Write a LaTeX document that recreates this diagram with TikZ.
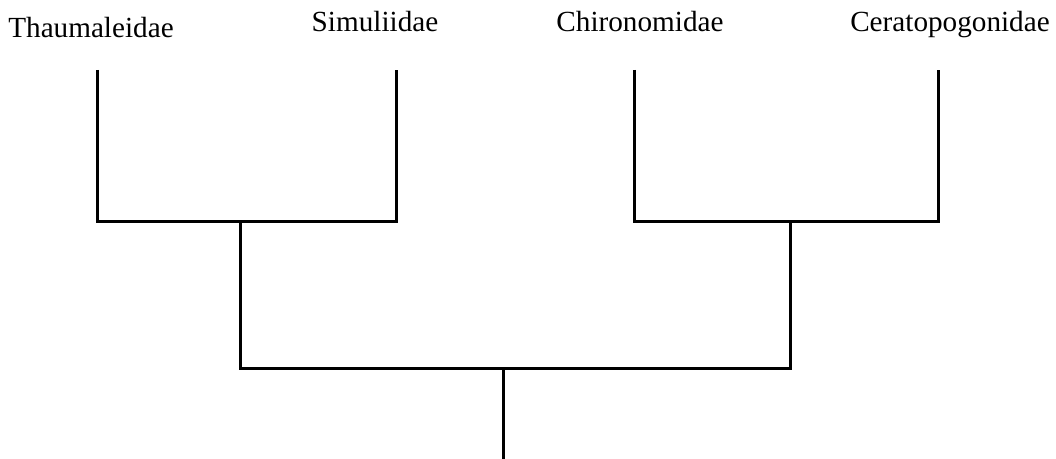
\documentclass[tikz,border=0pt]{standalone}
\usepackage{fontspec}
\setmainfont{Liberation Serif}
\begin{document}
\begin{tikzpicture}[x=0.5pt, y=-0.5pt,
  taxon/.style={anchor=base, inner sep=0pt, font=\fontsize{14.6}{18}\selectfont},
  branch/.style={line width=1.5pt}]
  \useasboundingbox (0,0) rectangle (1056,459);

  % family names
  \node[taxon] (thau) at (91,38) {Thaumaleidae};
  \node[taxon] (simu) at (375,32) {Simuliidae};
  \node[taxon] (chir) at (640,32) {Chironomidae};
  \node[taxon] (cera) at (950,32) {Ceratopogonidae};

  % tips and internal nodes
  \coordinate (thau tip) at (97,70);
  \coordinate (simu tip) at (396,70);
  \coordinate (chir tip) at (634,70);
  \coordinate (cera tip) at (938,70);
  \coordinate (left) at (240,222);
  \coordinate (right) at (790,222);
  \coordinate (base) at (503,369);
  \coordinate (root) at (503,459);

  \draw[branch] (thau tip) |- (left) -| (simu tip);
  \draw[branch] (chir tip) |- (right) -| (cera tip);
  \draw[branch] (left) |- (base) -| (right);
  \draw[branch] (base) -- (root);
\end{tikzpicture}
\end{document}
